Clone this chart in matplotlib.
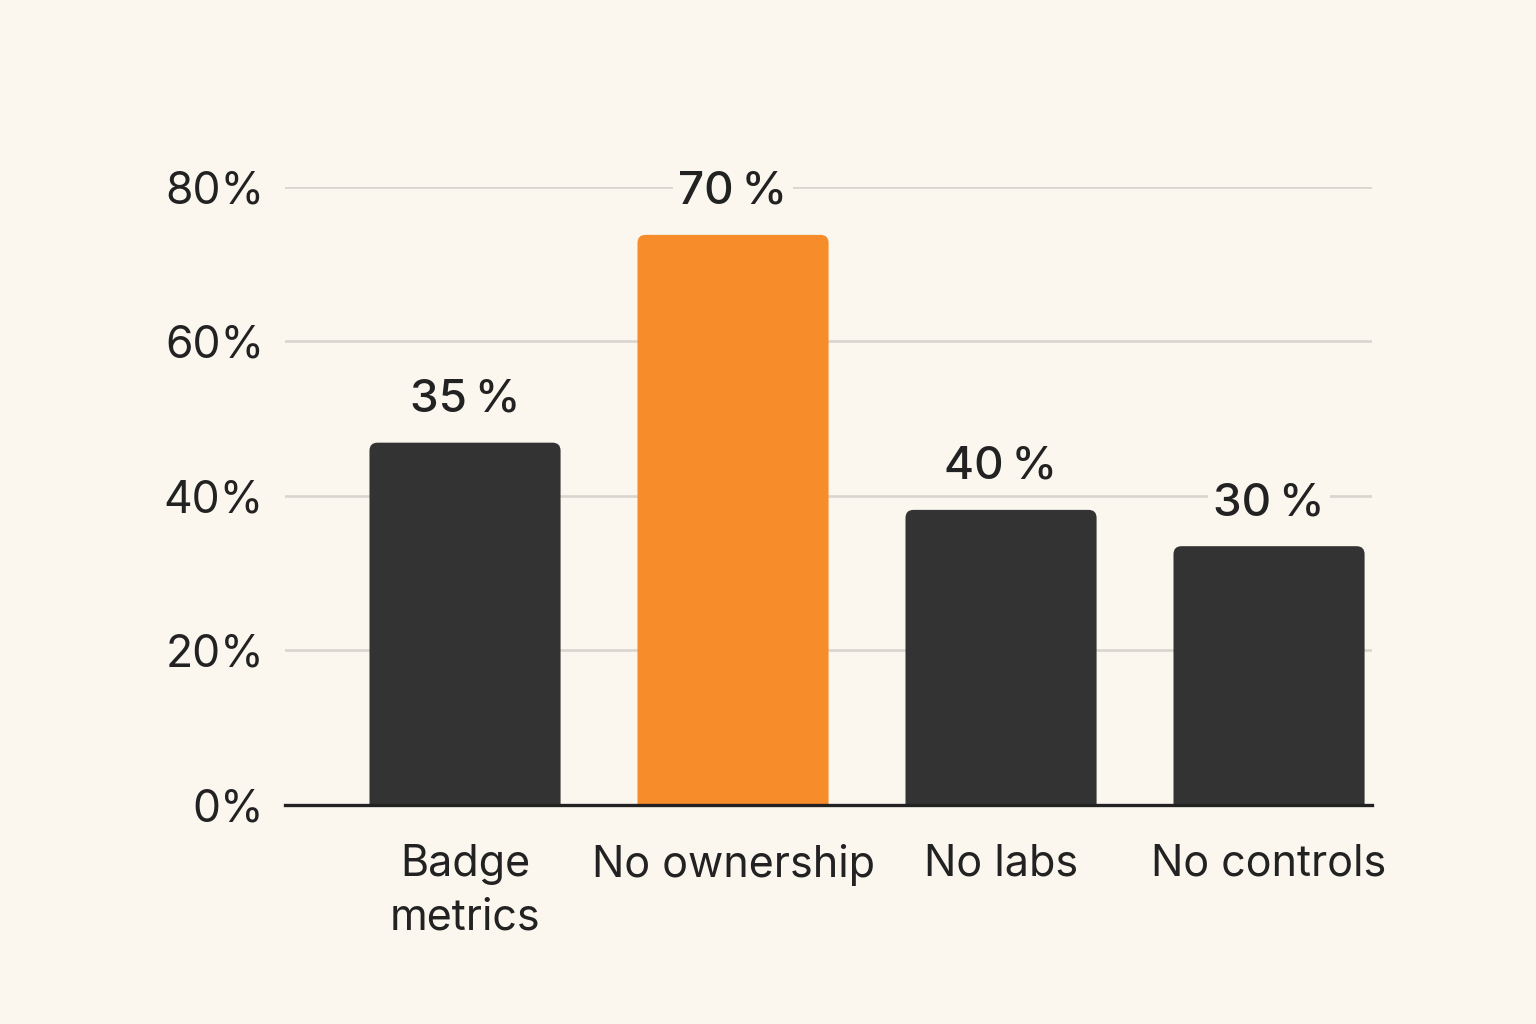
import matplotlib.pyplot as plt
from matplotlib.patches import FancyBboxPatch

# data
categories = ["Badge\nmetrics", "No ownership", "No labs", "No controls"]
bar_heights = [46.9, 73.8, 38.2, 33.5]
value_labels = ["35\u2009%", "70\u2009%", "40\u2009%", "30\u2009%"]
y_ticks = [0, 20, 40, 60, 80]
y_tick_labels = ["0%", "20%", "40%", "60%", "80%"]

bg = "#FBF7EF"
dark = "#333333"
orange = "#F78D2A"
grid_col = "#DAD6CF"

plt.rcParams['font.family'] = ['Inter', 'DejaVu Sans']

fig = plt.figure(figsize=(15.36, 10.24), dpi=100)
fig.patch.set_facecolor(bg)
ax = fig.add_axes([0.1855, 0.2139, 0.7077, 0.6035])
ax.set_facecolor(bg)

x = list(range(len(categories)))
colors = [dark, orange, dark, dark]
width = 0.713

bars = ax.bar(x, bar_heights, width=width, color=colors, zorder=3)

# swap plain bars for rounded ones
for b, c in zip(bars, colors):
    b.set_visible(False)
    p = FancyBboxPatch((b.get_x(), -2), b.get_width(), b.get_height() + 2,
                       boxstyle="round,pad=0,rounding_size=0.03",
                       mutation_aspect=34.6, facecolor=c, edgecolor="none",
                       zorder=3)
    ax.add_patch(p)

for xi, h, lab in zip(x, bar_heights, value_labels):
    ax.annotate(lab, (xi, h), xytext=(0, 31), textcoords="offset points",
                ha="center", va="center", fontsize=33, fontweight="medium",
                color="#222222", zorder=4,
                bbox=dict(boxstyle="square,pad=0.12", fc=bg, ec="none"))

ax.set_xlim(-0.672, 3.384)
ax.set_ylim(0, 80)
ax.set_yticks(y_ticks)
ax.set_yticklabels(y_tick_labels)
ax.set_xticks(x)
ax.set_xticklabels(categories, linespacing=1.38)
ax.tick_params(axis="y", length=0, pad=15, labelsize=32, labelcolor="#222222")
ax.tick_params(axis="x", length=0, pad=28, labelsize=31, labelcolor="#222222")

for t in [20, 40, 60, 80]:
    ax.axhline(t, color=grid_col, lw=1.9, zorder=1)

for s in ["top", "right", "left"]:
    ax.spines[s].set_visible(False)
ax.spines["bottom"].set_color("#222222")
ax.spines["bottom"].set_linewidth(2.4)
ax.spines["bottom"].set_zorder(5)

fig.savefig("out.png", dpi=100, facecolor=bg)
